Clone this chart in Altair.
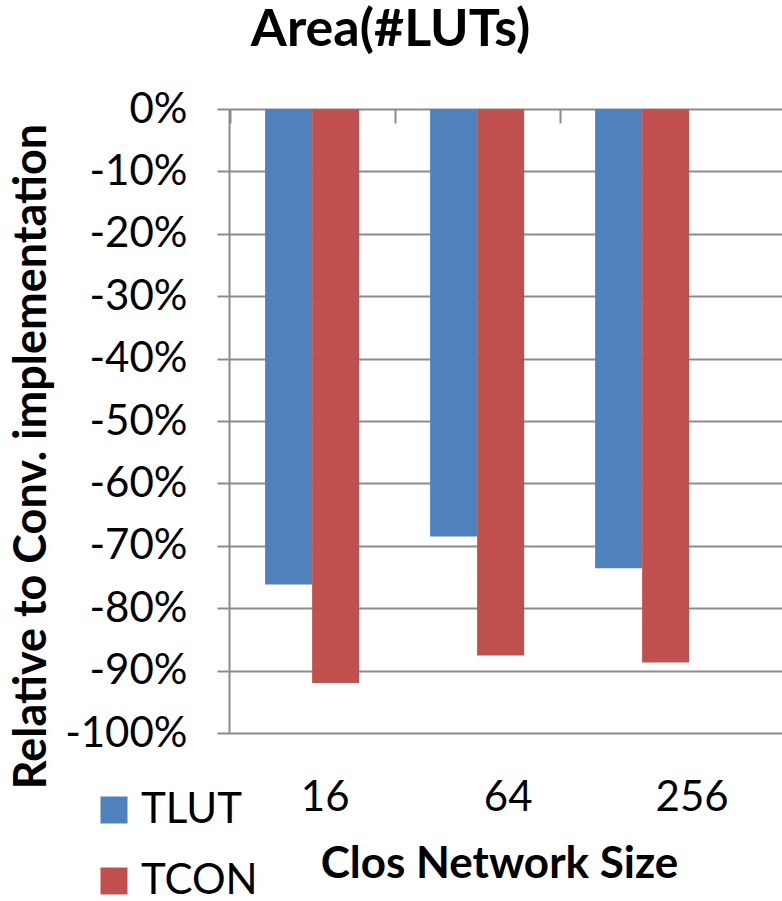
import altair as alt
import pandas as pd

categories = ["16", "64", "256"]
series = ["TLUT", "TCON"]
tlut_values = [-0.762, -0.685, -0.736]
tcon_values = [-0.920, -0.876, -0.887]
y_ticks = [0, -0.1, -0.2, -0.3, -0.4, -0.5, -0.6, -0.7, -0.8, -0.9, -1.0]
colors = ["#4F81BD", "#C0504D"]

rows = []
for i, c in enumerate(categories):
    rows.append({"size": c, "series": "TLUT", "value": tlut_values[i]})
    rows.append({"size": c, "series": "TCON", "value": tcon_values[i]})
df = pd.DataFrame(rows)

FONT = "Lato"
GRID = "#8c8c8c"

xscale = alt.Scale(domain=categories, paddingInner=0.43, paddingOuter=0.3908, align=0.28)

label_shift = {
    "condition": [
        {"test": "datum.value === '16'", "value": 13},
        {"test": "datum.value === '64'", "value": 31},
    ],
    "value": 50,
}

bars = alt.Chart(df).mark_bar().encode(
    x=alt.X("size:N", sort=categories, scale=xscale,
            axis=alt.Axis(orient="bottom", title="Clos Network Size", domain=False, ticks=False,
                          tickSize=0, grid=False, labelAngle=0, labelFont=FONT, labelFontSize=42,
                          labelColor="black", labelBaseline="alphabetic", labelPadding=77,
                          labelOffset=label_shift,
                          titleFont=FONT, titleFontSize=44, titleFontWeight="bold",
                          titleBaseline="alphabetic", titleY=144, titleX=270, titleColor="black")),
    xOffset=alt.XOffset("series:N", sort=series,
                        scale=alt.Scale(domain=series, paddingInner=0, paddingOuter=0)),
    y=alt.Y("value:Q", scale=alt.Scale(domain=[-1, 0], nice=False),
            axis=alt.Axis(values=y_ticks, labelExpr="round(datum.value*100) + '%'",
                          domain=True, domainColor=GRID, domainWidth=2,
                          ticks=True, tickSize=12, tickColor=GRID, tickWidth=2,
                          grid=True, gridColor=GRID, gridWidth=2,
                          labelFont=FONT, labelFontSize=42, labelColor="black", labelPadding=30,
                          title="Relative to Conv. implementation", titleFont=FONT,
                          titleFontSize=45, titleFontWeight="bold", titleColor="black",
                          titleX=-184, titleY=347, titleBaseline="alphabetic")),
    color=alt.Color("series:N", sort=series, scale=alt.Scale(domain=series, range=colors),
                    legend=alt.Legend(orient="none", legendX=-136, legendY=680, direction="vertical",
                                      title=None, symbolType="square", symbolSize=729,
                                      symbolStrokeWidth=0, labelFont=FONT, labelFontSize=42,
                                      labelColor="black", labelOffset=6, rowPadding=29, padding=0)),
)

top_ticks = alt.Chart(df).mark_tick(opacity=0).encode(
    x=alt.X("size:N", sort=categories, scale=xscale,
            axis=alt.Axis(orient="top", title=None, labels=False, domain=False, grid=False,
                          ticks=True, tickSize=14, tickColor=GRID, tickWidth=2,
                          tickOffset=-82.5, offset=-14)),
    y=alt.Y("value:Q"),
)

chart = alt.layer(bars, top_ticks).properties(
    width=553,
    height=624,
    title=alt.TitleParams("Area(#LUTs)", font=FONT, fontSize=52, fontWeight="bold",
                          anchor="middle", frame="group", dx=-115, offset=47, dy=57,
                          baseline="alphabetic", color="black"),
    autosize=alt.AutoSizeParams(type="none"),
    padding={"left": 229, "top": 109, "right": 0, "bottom": 168},
).configure_view(stroke=None)

chart.save("out.html", embed_options={"renderer": "svg", "actions": False})
